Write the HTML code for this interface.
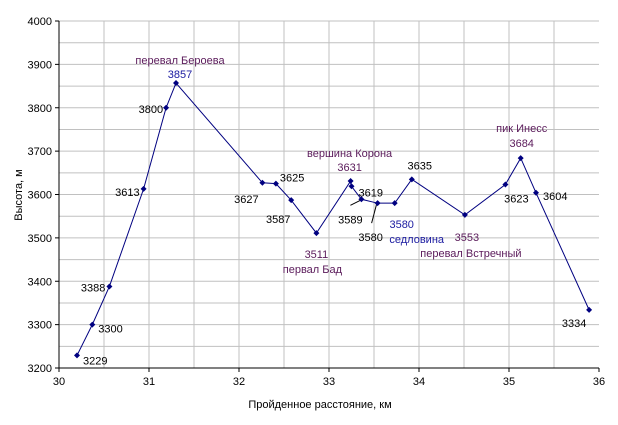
<!DOCTYPE html>
<html><head><meta charset="utf-8"><style>
html,body{margin:0;padding:0;background:#fff}
svg{display:block;font-family:"Liberation Sans",Arial,sans-serif}
</style></head><body>
<svg id="chart" width="618" height="425"></svg>
<script>
const distances=[30.2,30.37,30.56,30.94,31.19,31.3,32.26,32.41,32.58,32.86,33.24,33.25,33.36,33.54,33.73,33.92,34.51,34.96,35.13,35.30,35.89];
const heights=[3229,3300,3388,3613,3800,3857,3627,3625,3587,3511,3631,3619,3589,3580,3580,3635,3553,3623,3684,3604,3334];
const xTicks=[30,31,32,33,34,35,36];
const yTicks=[3200,3300,3400,3500,3600,3700,3800,3900,4000];
// label placement per point: [dx, dy, anchor, color]
const K='#000',P='#5a1a5a',B='#1a1aa0';
const labelStyle=[[6,5,'start',K],[6,4,'start',K],[-4,1,'end',K],[-4,3,'end',K],[-3,1,'end',K],[4,-9,'middle',B],
[-16,16,'middle',K],[4,-6,'start',K],[-13,19,'middle',K],[0,21,'middle',P],[-1,-14,'middle',P],[7,6,'start',K],
[-11,20,'middle',K],[-7,34,'middle',K],[7,21,'middle',B],[8,-14,'middle',K],[2,22,'middle',P],[11,14,'middle',K],[1,-15,'middle',P],[7,3,'start',K],[-15,13,'middle',K]];
const names=[[5,'перевал Бероева',4,-23,P],[9,'первал Бад',-4,36,P],[10,'вершина Корона',-1,-28,P],[14,'седловина',22,36,B],[16,'перевал Встречный',6,38,P],[18,'пик Инесс',1,-30,P]];
const svg=document.getElementById('chart');const NS='http://www.w3.org/2000/svg';
const L=59,R=599,T=21,Bt=368;
const xs=v=>L+(v-30)/6*(R-L), ys=v=>Bt-(v-3200)/800*(Bt-T);
function mk(t,a,p){const e=document.createElementNS(NS,t);for(const k in a)e.setAttribute(k,a[k]);(p||svg).appendChild(e);return e;}
const grid=mk('g',{});
for(let v=30.5;v<36;v+=0.5){mk('line',{x1:xs(v),x2:xs(v),y1:T,y2:Bt,stroke:'#c0c0c0'},grid);}
for(let v=3250;v<=4000;v+=50){mk('line',{x1:L,x2:R,y1:ys(v),y2:ys(v),stroke:'#c0c0c0'},grid);}
const ax=mk('g',{});
mk('line',{x1:L,x2:L,y1:T,y2:Bt,stroke:'#000'},ax);mk('line',{x1:L,x2:R,y1:Bt,y2:Bt,stroke:'#000'},ax);
yTicks.forEach(v=>{mk('line',{x1:L-4,x2:L,y1:ys(v),y2:ys(v),stroke:'#000'},ax);
 const t=mk('text',{x:L-7,y:ys(v)+4,'text-anchor':'end','font-size':11},ax);t.textContent=v;
 });
xTicks.forEach(v=>{mk('line',{x1:xs(v),x2:xs(v),y1:Bt,y2:Bt+4,stroke:'#000'},ax);
 const t=mk('text',{x:xs(v),y:Bt+17,'text-anchor':'middle','font-size':11},ax);t.textContent=v;
 });
const xt=mk('text',{x:320,y:408,'text-anchor':'middle','font-size':11});xt.textContent='Пройденное расстояние, км';

const yt=mk('text',{x:0,y:0,'text-anchor':'middle','font-size':11,transform:'translate(22,195) rotate(-90)'});yt.textContent='Высота, м';

const line=mk('polyline',{points:distances.map((d,i)=>xs(d)+','+ys(heights[i])).join(' '),fill:'none',stroke:'#000080','stroke-width':1});

// leader lines
[[12,[-11,6]],[13,[-6,20]]].forEach(([i,[dx,dy]])=>{const x=xs(distances[i]),y=ys(heights[i]);
 const l=mk('line',{x1:x-1,y1:y+1,x2:x+dx,y2:y+dy,stroke:'#000'});});
distances.forEach((d,i)=>{const x=xs(d),y=ys(heights[i]);
 const p=mk('path',{d:`M${x} ${y-3}L${x+3} ${y}L${x} ${y+3}L${x-3} ${y}Z`,fill:'#000080'});
 
 const s=labelStyle[i];const t=mk('text',{x:x+s[0],y:y+s[1]+4,'text-anchor':s[2],fill:s[3],'font-size':11});t.textContent=heights[i];
 });
names.forEach(([i,txt,dx,dy,c])=>{const x=xs(distances[i]),y=ys(heights[i]);
 const t=mk('text',{x:x+dx,y:y+dy+4,'text-anchor':'middle',fill:c,'font-size':11});t.textContent=txt;
 });
</script>
</body></html>
